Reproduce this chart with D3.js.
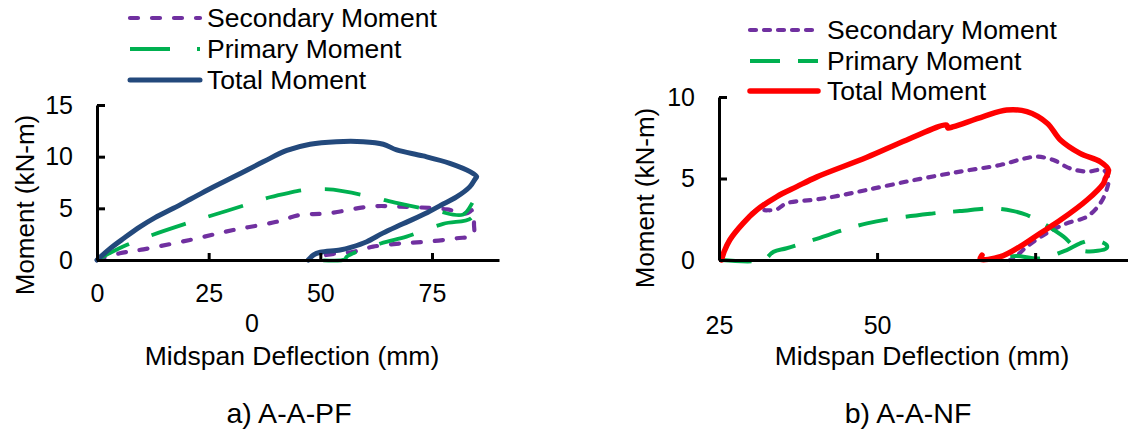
<!DOCTYPE html>
<html>
<head>
<meta charset="utf-8">
<script src="https://cdn.jsdelivr.net/npm/d3@7"></script>
<style>
  body { margin: 0; background: #fff; }
  svg text { font-family: "Liberation Sans", Arial, sans-serif; fill: #000; }
</style>
</head>
<body>
<svg id="svg" width="1128" height="431"></svg>
<script>
// a) A-A-PF  [deflection mm, moment kN-m]
var pfSecondary = [[0,0],[5.1,0.65],[10.4,1.03],[20.8,1.94],[30.5,2.9],[40.2,3.7],[45.4,4.36],[51.4,4.5],
  [61.8,5.2],[67.8,5.16],[78.3,4.9],[82.7,4.5],[84.2,4.84],[84.4,3.5],[84.2,2.4],[80.5,2.1],[73.8,1.77],
  [67.8,1.6],[61.8,1.29],[57.4,0.8],[53,0.6],[49,0.3]];
var pfPrimary = [[0,0],[3,0.7],[6.6,1.45],[12.2,2.4],[20.1,3.55],[25.3,4.26],[33.1,5.3],[38.7,6.07],
  [43,6.5],[46.9,6.8],[50,6.85],[52.9,6.8],[61.5,6.1],[67.3,5.5],[76,4.75],[82,4.4],[84.6,5.85],[83.9,4.1],
  [77.5,3.5],[69.3,2.26],[63.5,1.6],[55.9,0.32],[55.5,0.05],[49.3,0]];
var pfTotal = [[0,0],[2.9,1.1],[6,2.1],[9.6,3.2],[13,4.1],[17.1,5.0],[21,5.9],[25.3,6.9],[31.3,8.2],
  [37.2,9.5],[42.5,10.6],[47.7,11.2],[53.6,11.45],[59.6,11.45],[64.1,11.2],[67.1,10.65],[73,10.07],
  [79,9.36],[83.5,8.55],[85,8.06],[84.6,7.8],[83.5,7.1],[80.5,6.1],[77,5.3],[74,4.6],[68.5,3.5],
  [64,2.6],[60.4,1.77],[57,1.25],[54.4,0.97],[50,0.75],[48.5,0.5],[47.3,0]];

// b) A-A-NF
var nfSecondary = [[25.4,0],[25.8,0.5],[26.7,1.23],[28.8,2.25],[31,3.07],[32.5,3.05],[34.1,3.1],
  [35.7,3.48],[40.5,3.72],[43.1,3.88],[48.4,4.3],[55.8,4.9],[63.1,5.42],[69.5,5.83],[73,6.2],[75.3,6.34],
  [77.9,6.13],[80.5,5.62],[83.2,5.42],[85.8,5.52],[86.6,5.0],[86.3,4.3],[85.3,3.48],[83.2,2.66],
  [80,2.25],[76.8,1.64],[73.7,0.82],[71.6,0.1],[71,0]];
var nfPrimary = [[25.4,0],[32,0],[33.6,0.5],[35.7,0.72],[39.9,1.23],[48.4,2.25],[58.9,2.86],[63.1,3.0],
  [68.4,3.17],[71.6,3.0],[73.7,2.76],[75.8,2.35],[79.5,1.43],[81,0.9],[82.8,0.55],[86.3,0.72],[86.3,0.92],
  [84.2,1.23],[82.1,1.02],[80,0.61],[75.8,0.1],[72,0.25],[69,0.1],[66,0]];
var nfTotal = [[25.4,0],[25.8,0.5],[26.7,1.23],[28.8,2.25],[31,3.07],[34.1,3.88],[37.3,4.5],[40.5,5.1],
  [48.4,6.3],[54.7,7.36],[61,8.28],[61.2,8.1],[62.1,8.18],[66.8,8.8],[70.5,9.2],[73.7,9.1],[76.9,8.39],
  [79,7.36],[82.1,6.54],[85.3,6.03],[86.6,5.52],[86.1,5.0],[85.8,4.7],[83.2,3.68],[79,2.45],[75.8,1.64],
  [72.6,0.82],[69.5,0.2],[66.3,0.05],[66.6,0.3]];

var seriesNames = ["Secondary Moment", "Primary Moment", "Total Moment"];
var pfTicksX = [0, 25, 50, 75], pfTicksY = [0, 5, 10, 15];
var nfTicksX = [25, 50, 75], nfTicksY = [0, 5, 10];
var xTitle = "Midspan Deflection (mm)", yTitle = "Moment (kN-m)";

var svg = d3.select("#svg");

function drawPanel(cfg) {
  var x = d3.scaleLinear().domain(cfg.xDomain).range(cfg.xRange);
  var y = d3.scaleLinear().domain(cfg.yDomain).range(cfg.yRange);
  var g = svg.append("g");

  var line = d3.line()
    .x(function(d) { return x(d[0]); })
    .y(function(d) { return y(d[1]); })
    .curve(d3.curveCatmullRom.alpha(0.5));

  cfg.series.forEach(function(s) {
    g.append("path")
      .datum(s.data)
      .attr("d", line)
      .attr("fill", "none")
      .attr("stroke", s.color)
      .attr("stroke-width", s.width)
      .attr("stroke-dasharray", s.dash)
      .attr("stroke-linecap", s.cap)
      .attr("stroke-linejoin", "round");
  });

  var xAxis = g.append("g")
    .attr("transform", "translate(0," + cfg.yRange[0] + ")")
    .call(d3.axisBottom(x).tickValues(cfg.ticksX).tickSize(-7).tickSizeOuter(0)
      .tickPadding(cfg.xPad).tickFormat(cfg.xFormat || d3.format("d")));
  var yAxis = g.append("g")
    .attr("transform", "translate(" + cfg.xRange[0] + ",0)")
    .call(d3.axisLeft(y).tickValues(cfg.ticksY).tickSize(-8).tickSizeOuter(0).tickPadding(24));
  [xAxis, yAxis].forEach(function(a) {
    a.select(".domain").attr("stroke", "#000").attr("stroke-width", 3);
    a.selectAll(".tick line").attr("stroke", "#000").attr("stroke-width", 3);
    a.selectAll("text").style("font-size", "25px");
  });

  g.append("text").attr("x", cfg.xTitlePos[0]).attr("y", cfg.xTitlePos[1]).attr("dy", "0.35em")
    .attr("text-anchor", "middle").style("font-size", "26.5px").text(xTitle);
  g.append("text").attr("transform", "translate(" + cfg.yTitlePos[0] + "," + cfg.yTitlePos[1] + ") rotate(-90)")
    .attr("dy", "0.35em").attr("text-anchor", "middle").style("font-size", "26px").text(yTitle);
  g.append("text").attr("x", cfg.captionPos[0]).attr("y", cfg.captionPos[1]).attr("dy", "0.35em")
    .attr("text-anchor", "middle").style("font-size", "28.5px").text(cfg.caption);

  // legend
  var leg = g.selectAll(".leg").data(cfg.series).enter().append("g")
    .attr("transform", function(d, i) { return "translate(" + cfg.legend.x + "," + cfg.legend.rows[i] + ")"; });
  leg.append("line").attr("x1", 0).attr("x2", cfg.legend.len).attr("y1", 0).attr("y2", 0)
    .attr("stroke", function(d) { return d.color; })
    .attr("stroke-width", function(d) { return d.width; })
    .attr("stroke-dasharray", function(d) { return d.legDash || d.dash; })
    .attr("stroke-linecap", function(d) { return d.legCap || d.cap; });
  leg.append("text").attr("x", cfg.legend.textX).attr("dy", "0.35em").style("font-size", "26.5px")
    .text(function(d, i) { return seriesNames[i]; });
  return g;
}

var left = drawPanel({
  xDomain: [0, 90], xRange: [97, 499], yDomain: [0, 15], yRange: [260, 105],
  ticksX: pfTicksX, ticksY: pfTicksY, xPad: 24,
  xTitlePos: [292, 356], yTitlePos: [25, 205], captionPos: [289, 413], caption: "a) A-A-PF",
  legend: { x: 130, len: 70, textX: 77, rows: [18, 49, 80] },
  series: [
    { data: pfSecondary, color: "#7030a0", width: 4.2, dash: "8,14", cap: "round" },
    { data: pfPrimary, color: "#00b050", width: 3.8, dash: "36,24", cap: "butt", legDash: "40,27" },
    { data: pfTotal, color: "#23497c", width: 5, dash: null, cap: "round" }
  ]
});
// stray label under the left axis
left.append("text").attr("x", 252).attr("y", 323).attr("dy", "0.35em").attr("text-anchor", "middle")
  .style("font-size", "25px").text("0");

drawPanel({
  xDomain: [25, 90], xRange: [719, 1130], yDomain: [0, 10], yRange: [260, 97],
  ticksX: nfTicksX, ticksY: nfTicksY, xPad: 56,
  xFormat: function(d) { return d === 75 ? "" : d; },
  xTitlePos: [922, 356], yTitlePos: [645, 198], captionPos: [908, 413], caption: "b) A-A-NF",
  legend: { x: 750, len: 68, textX: 77, rows: [30, 61, 91] },
  series: [
    { data: nfSecondary, color: "#7030a0", width: 4.2, dash: "6,8", cap: "round" },
    { data: nfPrimary, color: "#00b050", width: 4, dash: "30,18", cap: "butt" },
    { data: nfTotal, color: "#ff0000", width: 5.5, dash: null, cap: "round" }
  ]
});
</script>
</body>
</html>
